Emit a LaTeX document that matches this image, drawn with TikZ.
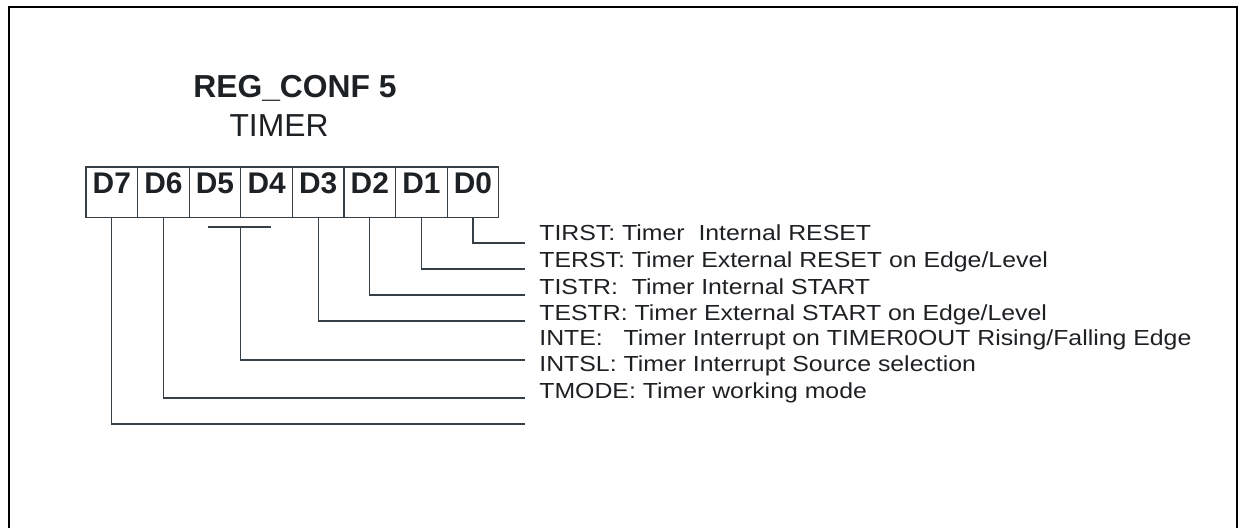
\documentclass[tikz,border=0pt]{standalone}
\usepackage{fontspec}
\setmainfont{Liberation Sans}
\newfontfamily\descfont{Liberation Sans}[FakeStretch=1.14]
\usepackage{xcolor}
\definecolor{regdark}{RGB}{30,33,36}
\definecolor{regline}{RGB}{55,64,70}
\usepackage{tikz}
\usetikzlibrary{positioning,calc}

\begin{document}
\begin{tikzpicture}[
  bitcell/.style={draw=regline, line width=0.6pt, minimum width=1.032cm, minimum height=1.01cm, inner sep=0pt, outer sep=0pt, text depth=0.38cm, font=\fontsize{17}{17}\selectfont\bfseries, text=regdark},
  desc/.style={anchor=base west, inner sep=0pt, font=\descfont\fontsize{12.4}{12}\selectfont, text=regdark},
  wire/.style={draw=regline, line width=0.6pt}
]
\useasboundingbox (0,0) rectangle (24.84,-10.56);
% outer frame, open at the bottom
\draw[line width=1.15pt] (0.18,-10.7) -- (0.18,-0.134) -- (24.74,-0.134) -- (24.74,-10.7);

\node[anchor=base, inner sep=0pt, font=\fontsize{18.1}{18}\selectfont\bfseries, text=regdark] (title) at (5.9,-1.94) {REG\_CONF 5};
\node[anchor=base, inner sep=0pt, font=\fontsize{18.1}{18}\selectfont, text=regdark] (sub) at (5.58,-2.72) {TIMER};

% register bits
\node[bitcell] (d7) at (2.236,-3.845) {D7};
\node[bitcell, right=0pt of d7] (d6) {D6};
\node[bitcell, right=0pt of d6] (d5) {D5};
\node[bitcell, right=0pt of d5] (d4) {D4};
\node[bitcell, right=0pt of d4] (d3) {D3};
\node[bitcell, right=0pt of d3] (d2) {D2};
\node[bitcell, right=0pt of d2] (d1) {D1};
\node[bitcell, right=0pt of d1] (d0) {D0};

% descriptions
\node[desc] (tirst) at (10.78,-4.80) {TIRST: Timer\ \ Internal RESET};
\node[desc] (terst) at (10.78,-5.34) {TERST: Timer External RESET on Edge/Level};
\node[desc] (tistr) at (10.78,-5.88) {TISTR:\ \ Timer Internal START};
\node[desc] (testr) at (10.78,-6.40) {TESTR: Timer External START on Edge/Level};
\node[desc] (inte) at (10.78,-6.90) {INTE:\ \ \ Timer Interrupt on TIMER0OUT Rising/Falling Edge};
\node[desc] (intsl) at (10.78,-7.42) {INTSL: Timer Interrupt Source selection};
\node[desc] (tmode) at (10.78,-7.96) {TMODE: Timer working mode};

% line ends
\coordinate (e0) at (10.5,-4.86);
\coordinate (e1) at (10.5,-5.38);
\coordinate (e2) at (10.5,-5.90);
\coordinate (e3) at (10.5,-6.42);
\coordinate (e4) at (10.5,-7.20);
\coordinate (e6) at (10.5,-7.96);
\coordinate (e7) at (10.5,-8.48);
\coordinate (b54) at ($(d5.south east)+(0,-0.19)$);

\draw[wire] (d0.south) |- (e0);
\draw[wire] (d1.south) |- (e1);
\draw[wire] (d2.south) |- (e2);
\draw[wire] (d3.south) |- (e3);
\draw[wire] ([xshift=-0.66cm]b54) -- ([xshift=0.6cm]b54);
\draw[wire] (b54) |- (e4);
\draw[wire] (d6.south) |- (e6);
\draw[wire] (d7.south) |- (e7);
\end{tikzpicture}
\end{document}
